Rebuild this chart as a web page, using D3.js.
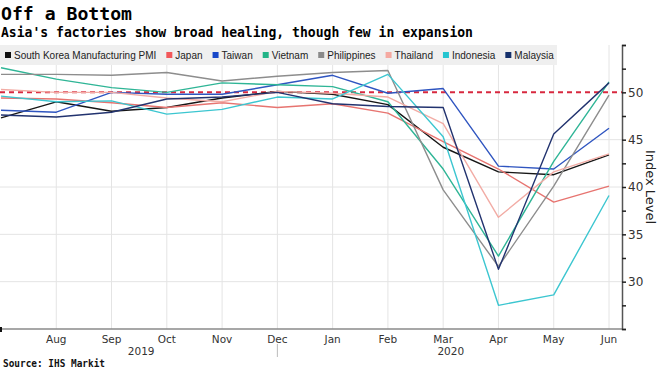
<!DOCTYPE html>
<html>
<head>
<meta charset="utf-8">
<script src="https://cdn.jsdelivr.net/npm/d3@7"></script>
<style>
  body { margin: 0; background: #fff; }
  svg { display: block; }
</style>
</head>
<body>
<div id="chart"></div>
<script>
// monthly manufacturing PMI, Jul 2019 - Jun 2020
var months = ['Jul 19','Aug 19','Sep 19','Oct 19','Nov 19','Dec 19','Jan 20','Feb 20','Mar 20','Apr 20','May 20','Jun 20'];
var monthLabels = ['', 'Aug','Sep','Oct','Nov','Dec','Jan','Feb','Mar','Apr','May','Jun'];
var yearLabels = ['2019', '2020'];

var southKorea  = [47.3, 49.0, 48.0, 48.4, 49.4, 50.1, 49.8, 48.7, 44.2, 41.6, 41.3, 43.4];
var japan       = [49.4, 49.3, 48.9, 48.4, 48.9, 48.4, 48.8, 47.8, 44.8, 41.9, 38.4, 40.1];
var taiwan      = [48.1, 47.9, 50.0, 49.8, 49.8, 50.8, 51.8, 49.9, 50.4, 42.2, 41.9, 46.2];
var vietnam     = [52.6, 51.4, 50.5, 50.0, 51.0, 50.8, 50.6, 49.0, 41.9, 32.7, 42.7, 51.1];
var philippines = [51.9, 51.9, 51.8, 52.1, 51.2, 51.7, 52.1, 52.3, 39.7, 31.6, 40.1, 49.7];
var thailand    = [50.3, 50.0, 50.0, 49.4, 49.0, 50.1, 49.9, 49.5, 46.7, 36.8, 41.6, 43.5];
var indonesia   = [49.6, 49.0, 49.1, 47.7, 48.2, 49.5, 49.3, 51.9, 45.3, 27.5, 28.6, 39.1];
var malaysia    = [47.6, 47.4, 47.9, 49.3, 49.5, 50.0, 48.8, 48.5, 48.4, 31.3, 45.6, 51.0];

var seriesNames = ['South Korea Manufacturing PMI','Japan','Taiwan','Vietnam','Philippines','Thailand','Indonesia','Malaysia'];
var seriesValues = [southKorea, japan, taiwan, vietnam, philippines, thailand, indonesia, malaysia];
var lineColors = ['#161616','#e77470','#2f55c0','#2fb596','#8d8d8d','#f2aca5','#3cc6d0','#22336f'];
var keyColors  = ['#111111','#f2585a','#1747c9','#22b487','#8a8a8a','#f5a9a1','#25c5d0','#15306b'];

var yTicks = [30, 35, 40, 45, 50];
var threshold = 50;

var W = 660, H = 371;
var plotL = 0, plotR = 622, plotT = 45, plotB = 329;

var svg = d3.select('#chart').append('svg')
  .attr('width', W)
  .attr('height', H);

var x = d3.scalePoint().domain(months).range([1, 609]);
var y = d3.scaleLinear().domain([25, 55]).range([plotB, plotT]);

// titles
svg.append('text')
  .attr('x', 1).attr('y', 20)
  .attr('font-family', 'DejaVu Sans Mono')
  .attr('font-weight', 'bold')
  .attr('font-size', 18)
  .attr('textLength', 131)
  .attr('lengthAdjust', 'spacingAndGlyphs')
  .attr('fill', '#000')
  .text('Off a Bottom');

svg.append('text')
  .attr('x', 1).attr('y', 37)
  .attr('font-family', 'DejaVu Sans Mono')
  .attr('font-weight', 'bold')
  .attr('font-size', 13.5)
  .attr('textLength', 472)
  .attr('lengthAdjust', 'spacingAndGlyphs')
  .attr('fill', '#000')
  .text("Asia's factories show broad healing, though few in expansion");

// grid
svg.append('g').selectAll('line.hg')
  .data(yTicks.filter(function(d){ return d != threshold; }))
  .enter().append('line')
  .attr('x1', plotL).attr('x2', plotR)
  .attr('y1', function(d){ return y(d); })
  .attr('y2', function(d){ return y(d); })
  .attr('stroke', '#e4e4e4')
  .attr('stroke-width', 1);

svg.append('g').selectAll('line.vg')
  .data(months.slice(1))
  .enter().append('line')
  .attr('x1', function(d){ return x(d); })
  .attr('x2', function(d){ return x(d); })
  .attr('y1', plotT).attr('y2', plotB)
  .attr('stroke', '#e4e4e4')
  .attr('stroke-width', 1);

// 50 line
svg.append('line')
  .attr('x1', plotL).attr('x2', plotR)
  .attr('y1', y(threshold)).attr('y2', y(threshold))
  .attr('stroke', '#d8283f')
  .attr('stroke-width', 2)
  .attr('stroke-dasharray', '5,4');

// lines
svg.append('clipPath').attr('id', 'clip')
  .append('rect').attr('x', plotL).attr('y', plotT).attr('width', plotR - plotL).attr('height', plotB - plotT);

var line = d3.line()
  .x(function(d, i){ return x(months[i]); })
  .y(function(d){ return y(d); });

svg.append('g').attr('clip-path', 'url(#clip)')
  .selectAll('path')
  .data(seriesValues)
  .enter().append('path')
  .attr('d', line)
  .attr('fill', 'none')
  .attr('stroke', function(d, i){ return lineColors[i]; })
  .attr('stroke-width', 1.4)
  .attr('stroke-linejoin', 'round');

// legend
var legend = svg.append('g');
legend.append('rect')
  .attr('x', 0).attr('y', plotT).attr('width', 557).attr('height', 20)
  .attr('fill', '#efefef');

var lx = 5;
seriesNames.forEach(function(name, i) {
  legend.append('rect')
    .attr('x', lx).attr('y', 52).attr('width', 6).attr('height', 6)
    .attr('fill', keyColors[i]);
  var t = legend.append('text')
    .attr('x', lx + 9).attr('y', 59)
    .attr('font-family', 'Liberation Sans, Arial, sans-serif')
    .attr('font-size', 10)
    .attr('fill', '#222')
    .text(name);
  lx = lx + 9 + t.node().getComputedTextLength() + 10;
});

// x axis
svg.append('line')
  .attr('x1', plotL).attr('x2', plotR)
  .attr('y1', plotB).attr('y2', plotB)
  .attr('stroke', '#8a8a8a')
  .attr('stroke-width', 1.5);
svg.append('line')
  .attr('x1', 1).attr('x2', 1)
  .attr('y1', plotB - 2).attr('y2', plotB + 3)
  .attr('stroke', '#111').attr('stroke-width', 2);

svg.append('g').selectAll('text')
  .data(months)
  .enter().append('text')
  .attr('x', function(d){ return x(d); })
  .attr('y', 343)
  .attr('text-anchor', 'middle')
  .attr('font-family', 'DejaVu Sans, sans-serif')
  .attr('font-size', 10.5)
  .attr('fill', '#333')
  .text(function(d, i){ return monthLabels[i]; });

// year labels + divider
svg.append('text')
  .attr('x', (x(months[0]) + x(months[5])) / 2 + 2).attr('y', 355)
  .attr('text-anchor', 'middle')
  .attr('font-family', 'DejaVu Sans, sans-serif')
  .attr('font-size', 10.5)
  .attr('fill', '#333')
  .text(yearLabels[0]);
svg.append('text')
  .attr('x', (x(months[6]) + x(months[11])) / 2 - 20).attr('y', 355)
  .attr('text-anchor', 'middle')
  .attr('font-family', 'DejaVu Sans, sans-serif')
  .attr('font-size', 10.5)
  .attr('fill', '#333')
  .text(yearLabels[1]);
svg.append('line')
  .attr('x1', x(months[5])).attr('x2', x(months[5]))
  .attr('y1', 344).attr('y2', 357)
  .attr('stroke', '#bbb').attr('stroke-width', 1);

// right axis
var yAxis = d3.axisRight(y)
  .tickValues(d3.range(25, 55.1, 2.5))
  .tickSize(4)
  .tickFormat(function(d){ return yTicks.indexOf(d) >= 0 ? d : ''; });

var ya = svg.append('g')
  .attr('transform', 'translate(' + plotR + ',0)')
  .call(yAxis);
ya.select('.domain').attr('stroke', '#555').attr('stroke-width', 1.5);
ya.selectAll('.tick line').attr('stroke', '#222').attr('stroke-width', 1.5);
ya.selectAll('.tick text')
  .attr('x', 6)
  .attr('font-family', 'DejaVu Sans, sans-serif')
  .attr('font-size', 12)
  .attr('fill', '#333');

svg.append('text')
  .attr('transform', 'translate(646,' + ((plotT + plotB) / 2) + ') rotate(90)')
  .attr('text-anchor', 'middle')
  .attr('font-family', 'DejaVu Sans, sans-serif')
  .attr('font-size', 13)
  .attr('fill', '#222')
  .text('Index Level');

// source
svg.append('text')
  .attr('x', 3).attr('y', 367)
  .attr('font-family', 'DejaVu Sans Mono')
  .attr('font-weight', 'bold')
  .attr('font-size', 10.5)
  .attr('textLength', 102)
  .attr('lengthAdjust', 'spacingAndGlyphs')
  .attr('fill', '#111')
  .text('Source: IHS Markit');
</script>
</body>
</html>
